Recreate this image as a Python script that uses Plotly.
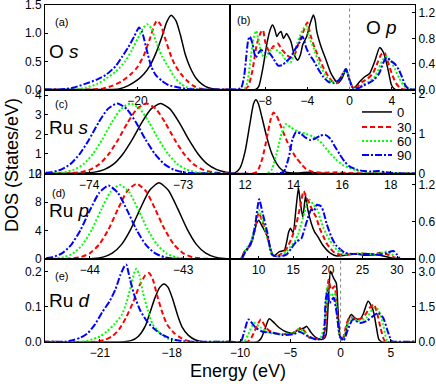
import plotly.graph_objects as go

# ---------------- data ----------------
labels = ["0", "30", "60", "90"]
colors = ["#000000", "#ff0000", "#00ff00", "#0000ff"]

# (a) O s
a_x0 = [-23.0, -21.0, -20.6, -20.3, -20.0, -19.8, -19.6, -19.4, -19.2, -19.05, -18.91, -18.75, -18.6, -18.45, -18.3, -18.1, -17.9, -17.7, -17.4, -16.8]
a_y0 = [0, 0, 0.01, 0.07, 0.17, 0.27, 0.42, 0.65, 0.95, 1.2, 1.32, 1.22, 0.95, 0.62, 0.4, 0.2, 0.09, 0.03, 0.0, 0]
a_x1 = [-23.0, -21.5, -21.1, -20.8, -20.5, -20.2, -20.0, -19.8, -19.6, -19.45, -19.37, -19.25, -19.1, -18.95, -18.8, -18.6, -18.4, -18.2, -18.0, -17.7, -16.8]
a_y1 = [0, 0, 0.02, 0.07, 0.15, 0.28, 0.4, 0.6, 0.9, 1.15, 1.22, 1.15, 0.9, 0.65, 0.45, 0.28, 0.16, 0.07, 0.02, 0, 0]
a_x2 = [-23.0, -22.0, -21.7, -21.3, -21.0, -20.7, -20.4, -20.2, -20.0, -19.8, -19.69, -19.55, -19.4, -19.2, -19.0, -18.8, -18.6, -18.4, -18.1, -16.8]
a_y2 = [0, 0, 0.03, 0.1, 0.2, 0.32, 0.5, 0.68, 0.9, 1.1, 1.16, 1.08, 0.85, 0.58, 0.4, 0.22, 0.1, 0.04, 0, 0]
a_x3 = [-23.0, -22.5, -22.1, -21.7, -21.3, -21.0, -20.7, -20.5, -20.3, -20.1, -19.95, -19.85, -19.7, -19.55, -19.4, -19.2, -19.0, -18.7, -18.4, -18.0, -16.8]
a_y3 = [0, 0, 0.03, 0.1, 0.18, 0.27, 0.42, 0.58, 0.75, 0.95, 1.1, 1.02, 0.7, 0.4, 0.25, 0.15, 0.08, 0.04, 0.01, 0, 0]

# (b) O p
b_x0 = [-11.4, -8.9, -8.6, -8.2, -7.8, -7.5, -7.3, -7.1, -6.89, -6.7, -6.5, -6.26, -5.97, -5.75, -5.55, -5.24, -4.92, -4.65, -4.44, -4.06, -3.81, -3.6, -3.43, -3.25, -3.11, -2.7, -2.22, -1.75, -1.11, -0.7, -0.32, 0.0, 0.32, 0.6, 0.95, 1.43, 1.9, 2.38, 2.86, 3.24, 3.65, 3.97, 4.3, 6.3]
b_y0 = [0, 0, 0.05, 0.35, 0.75, 0.95, 1.01, 0.95, 0.83, 0.88, 0.91, 0.8, 0.88, 0.82, 0.75, 0.54, 0.46, 0.55, 0.7, 0.83, 0.99, 1.1, 1.17, 1.08, 0.91, 0.67, 0.46, 0.25, 0.1, 0.18, 0.32, 0.15, 0.03, 0.05, 0.12, 0.2, 0.25, 0.44, 0.66, 0.57, 0.31, 0.07, 0, 0]
b_x1 = [-11.4, -10.0, -9.6, -9.2, -8.8, -8.4, -8.2, -8.0, -7.6, -7.2, -6.8, -6.4, -6.0, -5.6, -5.2, -4.8, -4.4, -4.0, -3.7, -3.3, -2.9, -2.5, -2.0, -1.6, -1.2, -0.8, -0.35, -0.1, 0.3, 0.7, 1.2, 1.7, 2.2, 2.6, 3.0, 3.3, 3.6, 4.0, 4.4, 4.8, 5.2, 6.3]
b_y1 = [0, 0, 0.05, 0.3, 0.7, 0.9, 0.93, 0.75, 0.6, 0.68, 0.72, 0.62, 0.55, 0.5, 0.55, 0.75, 0.9, 1.05, 0.85, 0.65, 0.5, 0.35, 0.2, 0.12, 0.1, 0.2, 0.32, 0.2, 0.03, 0.04, 0.12, 0.17, 0.25, 0.4, 0.55, 0.58, 0.45, 0.25, 0.1, 0.02, 0, 0]
b_x2 = [-11.4, -10.0, -9.7, -9.4, -9.1, -8.85, -8.6, -8.3, -8.0, -7.6, -7.2, -6.8, -6.4, -6.0, -5.6, -5.2, -4.8, -4.4, -4.1, -3.8, -3.4, -3.0, -2.6, -2.2, -1.7, -1.2, -0.8, -0.35, -0.1, 0.3, 0.8, 1.3, 1.8, 2.3, 2.7, 3.1, 3.5, 3.9, 4.3, 4.7, 5.1, 5.5, 5.8, 6.3]
b_y2 = [0, 0, 0.1, 0.45, 0.8, 0.92, 0.75, 0.55, 0.5, 0.6, 0.65, 0.6, 0.55, 0.45, 0.42, 0.6, 0.8, 0.95, 1.0, 0.8, 0.65, 0.45, 0.32, 0.2, 0.12, 0.12, 0.2, 0.32, 0.2, 0.03, 0.03, 0.08, 0.12, 0.18, 0.3, 0.45, 0.52, 0.45, 0.32, 0.18, 0.07, 0.01, 0, 0]
b_x3 = [-11.4, -10.3, -10.0, -9.8, -9.6, -9.45, -9.2, -8.9, -8.6, -8.4, -8.0, -7.6, -7.2, -6.8, -6.4, -6.0, -5.6, -5.2, -4.8, -4.45, -4.1, -3.8, -3.4, -3.0, -2.5, -2.0, -1.5, -1.0, -0.6, -0.35, -0.1, 0.3, 0.8, 1.3, 1.8, 2.3, 2.8, 3.2, 3.5, 3.9, 4.3, 4.7, 5.0, 5.3, 5.6, 6.0, 6.3]
b_y3 = [0, 0.02, 0.2, 0.5, 0.78, 0.83, 0.72, 0.5, 0.58, 0.62, 0.58, 0.57, 0.48, 0.38, 0.38, 0.44, 0.5, 0.62, 0.72, 0.83, 0.65, 0.55, 0.45, 0.33, 0.2, 0.12, 0.1, 0.15, 0.25, 0.32, 0.2, 0.03, 0.02, 0.06, 0.1, 0.15, 0.25, 0.42, 0.5, 0.45, 0.4, 0.3, 0.18, 0.06, 0.01, 0, 0]

# (c) Ru s (semicore)
c_x0 = [-74.6, -74.04, -73.94, -73.84, -73.74, -73.64, -73.54, -73.44, -73.34, -73.24, -73.14, -73.04, -72.94, -72.84, -72.74, -72.64, -72.54, -72.44, -72.4]
c_y0 = [0, 0.02, 0.07, 0.2, 0.48, 1.0, 1.74, 2.6, 3.3, 3.58, 3.3, 2.6, 1.74, 1.0, 0.48, 0.2, 0.07, 0.02, 0]
c_x1 = [-74.6, -74.19, -74.09, -73.99, -73.89, -73.79, -73.69, -73.59, -73.49, -73.39, -73.29, -73.19, -73.09, -72.99, -72.89, -72.79, -72.69, -72.59, -72.4]
c_y1 = [0, 0.02, 0.07, 0.2, 0.48, 1.0, 1.74, 2.6, 3.3, 3.58, 3.3, 2.6, 1.74, 1.0, 0.48, 0.2, 0.07, 0.02, 0]
c_x2 = [-74.6, -74.36, -74.26, -74.16, -74.06, -73.96, -73.86, -73.76, -73.66, -73.56, -73.46, -73.36, -73.26, -73.16, -73.06, -72.96, -72.86, -72.76, -72.4]
c_y2 = [0, 0.02, 0.07, 0.2, 0.48, 1.0, 1.74, 2.6, 3.3, 3.58, 3.3, 2.6, 1.74, 1.0, 0.48, 0.2, 0.07, 0.02, 0]
c_x3 = [-74.6, -74.5, -74.4, -74.3, -74.2, -74.1, -74.0, -73.9, -73.8, -73.7, -73.6, -73.5, -73.4, -73.3, -73.2, -73.1, -73.0, -72.9, -72.4]
c_y3 = [0, 0.02, 0.07, 0.2, 0.48, 1.0, 1.74, 2.6, 3.3, 3.58, 3.3, 2.6, 1.74, 1.0, 0.48, 0.2, 0.07, 0.02, 0]

# row 2 right (Ru s, conduction)
r2_x0 = [11.3, 11.6, 11.8, 12.0, 12.2, 12.35, 12.45, 12.55, 12.7, 12.9, 13.1, 13.3, 13.5, 13.7, 14.0, 14.6, 15.0, 15.5, 19.1]
r2_y0 = [0, 0.02, 0.15, 0.55, 1.25, 1.75, 1.85, 1.75, 1.4, 0.9, 0.5, 0.25, 0.1, 0.03, 0.01, 0.03, 0.01, 0, 0]
r2_x1 = [11.3, 12.3, 12.5, 12.7, 12.9, 13.05, 13.17, 13.3, 13.5, 13.7, 13.9, 14.1, 14.3, 14.5, 14.8, 15.2, 15.8, 16.3, 17.0, 19.1]
r2_y1 = [0, 0, 0.05, 0.35, 0.9, 1.35, 1.53, 1.45, 1.15, 0.85, 0.6, 0.4, 0.25, 0.12, 0.04, 0.02, 0.03, 0.01, 0, 0]
r2_x2 = [11.3, 12.9, 13.1, 13.3, 13.5, 13.68, 13.9, 14.2, 14.5, 14.8, 15.1, 15.4, 15.7, 16.0, 16.3, 16.6, 17.0, 17.5, 18.0, 18.5, 19.1]
r2_y2 = [0, 0, 0.1, 0.5, 1.0, 1.24, 1.15, 1.05, 1.0, 0.93, 0.8, 0.58, 0.38, 0.22, 0.14, 0.08, 0.04, 0.03, 0.01, 0, 0]
r2_x3 = [11.3, 13.4, 13.6, 13.8, 13.95, 14.1, 14.3, 14.5, 14.7, 14.9, 15.1, 15.3, 15.5, 15.7, 15.9, 16.1, 16.3, 16.6, 16.9, 17.2, 17.5, 17.8, 18.2, 18.6, 19.1]
r2_y3 = [0, 0, 0.05, 0.4, 0.85, 1.04, 1.0, 0.9, 0.84, 0.88, 0.95, 0.97, 0.88, 0.68, 0.48, 0.3, 0.18, 0.1, 0.06, 0.05, 0.06, 0.03, 0.01, 0, 0]

# (d) Ru p (semicore)
d_x0 = [-44.6, -44.06, -43.96, -43.86, -43.76, -43.66, -43.56, -43.46, -43.36, -43.26, -43.16, -43.06, -42.96, -42.86, -42.76, -42.66, -42.56, -42.46, -42.4]
d_y0 = [0, 0.01, 0.07, 0.26, 0.81, 2.05, 4.23, 7.08, 9.65, 10.7, 9.65, 7.08, 4.23, 2.05, 0.81, 0.26, 0.07, 0.01, 0]
d_x1 = [-44.6, -44.3, -44.2, -44.1, -44.0, -43.9, -43.8, -43.7, -43.6, -43.5, -43.4, -43.3, -43.2, -43.1, -43.0, -42.9, -42.8, -42.7, -42.4]
d_y1 = [0, 0.01, 0.06, 0.25, 0.8, 2.03, 4.17, 6.98, 9.52, 10.55, 9.52, 6.98, 4.17, 2.03, 0.8, 0.25, 0.06, 0.01, 0]
d_x2 = [-44.6, -44.48, -44.38, -44.28, -44.18, -44.08, -43.98, -43.88, -43.78, -43.68, -43.58, -43.48, -43.38, -43.28, -43.18, -43.08, -42.98, -42.88, -42.4]
d_y2 = [0, 0.01, 0.06, 0.25, 0.79, 2.0, 4.11, 6.88, 9.38, 10.4, 9.38, 6.88, 4.11, 2.0, 0.79, 0.25, 0.06, 0.01, 0]
d_x3 = [-44.6, -44.5, -44.5, -44.4, -44.3, -44.2, -44.1, -44.0, -43.9, -43.8, -43.7, -43.6, -43.5, -43.4, -43.3, -43.2, -43.1, -43.0, -42.4]
d_y3 = [0, 0.0, 0.06, 0.25, 0.78, 1.98, 4.07, 6.82, 9.29, 10.3, 9.29, 6.82, 4.07, 1.98, 0.78, 0.25, 0.06, 0.01, 0]

# row 3 right (Ru p, conduction)
r3_x0 = [5.8, 7.4, 7.9, 8.37, 8.8, 9.3, 9.7, 10.0, 10.55, 11.05, 11.4, 11.77, 12.2, 12.98, 13.7, 14.34, 14.6, 14.97, 15.42, 15.75, 16.04, 16.38, 16.77, 17.1, 17.6, 18.08, 18.57, 19.3, 20.3, 21.3, 22.5, 24.0, 25.5, 27.0, 28.0, 29.0, 30.0, 32.7]
r3_y0 = [0, 0, 0.12, 0.17, 0.22, 0.4, 0.58, 0.63, 0.52, 0.42, 0.3, 0.14, 0.05, 0.12, 0.14, 0.44, 0.5, 0.43, 0.85, 1.15, 0.9, 0.68, 1.02, 0.8, 0.58, 0.44, 0.36, 0.22, 0.1, 0.05, 0.06, 0.08, 0.06, 0.07, 0.05, 0.02, 0, 0]
r3_x1 = [5.8, 7.4, 7.9, 8.4, 8.9, 9.4, 9.8, 10.0, 10.5, 11.0, 11.5, 11.9, 12.5, 13.2, 13.7, 14.2, 14.8, 15.4, 16.0, 16.5, 16.9, 17.35, 17.8, 18.3, 18.8, 19.3, 19.8, 20.3, 21.0, 22.0, 23.5, 25.0, 26.5, 27.5, 28.5, 29.5, 30.2, 32.7]
r3_y1 = [0, 0, 0.1, 0.18, 0.25, 0.45, 0.68, 0.75, 0.62, 0.45, 0.25, 0.08, 0.04, 0.08, 0.12, 0.2, 0.35, 0.55, 0.85, 1.1, 1.0, 0.9, 0.78, 0.68, 0.5, 0.38, 0.26, 0.18, 0.1, 0.07, 0.08, 0.09, 0.08, 0.1, 0.08, 0.03, 0, 0]
r3_x2 = [5.8, 7.4, 7.9, 8.4, 8.9, 9.4, 9.8, 10.0, 10.5, 11.0, 11.5, 12.0, 12.6, 13.3, 14.0, 14.6, 15.2, 15.7, 16.1, 16.6, 17.0, 17.35, 17.9, 18.5, 18.9, 19.3, 19.8, 20.3, 20.8, 21.3, 22.3, 23.5, 25.0, 26.5, 27.5, 28.5, 29.2, 30.0, 32.7]
r3_y2 = [0, 0, 0.1, 0.2, 0.28, 0.5, 0.74, 0.8, 0.65, 0.45, 0.25, 0.07, 0.04, 0.06, 0.12, 0.2, 0.28, 0.4, 0.55, 0.75, 0.9, 0.96, 0.88, 0.8, 0.65, 0.52, 0.4, 0.3, 0.22, 0.15, 0.08, 0.08, 0.09, 0.08, 0.09, 0.12, 0.08, 0.01, 0]
r3_x3 = [5.8, 7.5, 8.0, 8.5, 9.0, 9.5, 9.85, 10.07, 10.56, 11.3, 11.93, 12.8, 14.0, 14.7, 15.42, 16.15, 16.87, 17.6, 18.0, 18.42, 19.05, 19.4, 19.8, 20.5, 21.2, 22.5, 24.2, 26.0, 27.5, 28.5, 29.5, 30.0, 30.45, 32.7]
r3_y3 = [0, 0, 0.1, 0.18, 0.3, 0.55, 0.85, 0.97, 0.75, 0.4, 0.07, 0.04, 0.07, 0.17, 0.28, 0.33, 0.58, 0.8, 0.78, 0.88, 0.85, 0.75, 0.58, 0.36, 0.22, 0.1, 0.08, 0.08, 0.07, 0.1, 0.13, 0.07, 0, 0]

# (e) Ru d (semicore)
e_x0 = [-23.4, -20.0, -19.7, -19.4, -19.1, -18.9, -18.7, -18.5, -18.32, -18.15, -17.95, -17.75, -17.55, -17.3, -17.0, -16.7, -15.5]
e_y0 = [0, 0, 0.003, 0.015, 0.045, 0.085, 0.125, 0.155, 0.165, 0.155, 0.12, 0.075, 0.04, 0.018, 0.005, 0, 0]
e_x1 = [-23.4, -21.2, -20.8, -20.5, -20.2, -19.9, -19.6, -19.35, -19.1, -18.95, -18.8, -18.6, -18.4, -18.2, -17.9, -17.6, -17.2, -15.5]
e_y1 = [0, 0, 0.005, 0.015, 0.035, 0.07, 0.115, 0.16, 0.19, 0.196, 0.18, 0.13, 0.085, 0.05, 0.025, 0.01, 0, 0]
e_x2 = [-23.4, -21.8, -21.4, -21.0, -20.7, -20.4, -20.1, -19.9, -19.7, -19.55, -19.48, -19.35, -19.2, -19.0, -18.8, -18.5, -18.2, -17.8, -17.5, -15.5]
e_y2 = [0, 0, 0.005, 0.015, 0.03, 0.05, 0.075, 0.11, 0.16, 0.2, 0.208, 0.19, 0.14, 0.09, 0.05, 0.025, 0.01, 0.003, 0, 0]
e_x3 = [-23.4, -22.5, -22.1, -21.8, -21.5, -21.2, -20.9, -20.6, -20.35, -20.15, -19.98, -19.9, -19.75, -19.55, -19.3, -19.0, -18.7, -18.4, -18.0, -17.6, -17.2, -15.5]
e_y3 = [0, 0, 0.005, 0.012, 0.025, 0.05, 0.085, 0.115, 0.15, 0.19, 0.215, 0.22, 0.18, 0.13, 0.087, 0.055, 0.035, 0.02, 0.008, 0.002, 0, 0]

# row 4 right (Ru d, valence)
r4_x0 = [-11.1, -8.27, -7.9, -7.6, -7.1, -6.6, -6.1, -5.43, -4.77, -4.27, -3.6, -3.37, -2.93, -2.43, -1.93, -1.6, -1.43, -1.2, -1.0, -0.7, -0.43, -0.27, -0.1, 0.1, 0.4, 0.73, 1.07, 1.4, 1.9, 2.23, 2.73, 3.07, 3.3, 3.57, 3.8, 4.07, 7.5]
r4_y0 = [0, 0, 0.15, 0.46, 0.99, 0.81, 0.6, 0.43, 0.38, 0.49, 0.6, 0.66, 0.39, 0.17, 0.1, 0.15, 0.32, 1.89, 3.03, 2.74, 2.53, 1.46, 0.39, 0.1, 0.24, 0.89, 1.17, 1.03, 0.96, 1.17, 1.74, 1.53, 1.24, 0.6, 0.1, 0, 0]
r4_x1 = [-11.1, -9.27, -8.9, -8.4, -7.93, -7.43, -6.77, -5.77, -4.77, -3.93, -3.5, -3.1, -2.43, -1.77, -1.43, -1.2, -0.93, -0.6, -0.37, -0.1, 0.23, 0.57, 0.9, 1.57, 2.23, 2.9, 3.3, 3.63, 3.97, 4.3, 4.5, 7.5]
r4_y1 = [0, 0, 0.15, 0.6, 0.96, 0.6, 0.39, 0.33, 0.35, 0.6, 0.4, 0.17, 0.13, 0.1, 1.1, 2.67, 2.24, 2.39, 1.46, 0.3, 0.17, 0.73, 1.06, 0.96, 1.03, 1.46, 1.6, 1.24, 0.6, 0.1, 0, 0]
r4_x2 = [-11.1, -9.6, -9.2, -8.6, -7.93, -7.1, -5.77, -4.6, -4.1, -3.6, -3.1, -2.1, -1.6, -1.33, -1.0, -0.6, -0.37, -0.1, 0.23, 0.63, 1.07, 1.73, 2.57, 3.3, 3.73, 4.23, 4.57, 4.8, 7.5]
r4_y2 = [0, 0, 0.3, 0.81, 0.6, 0.39, 0.33, 0.4, 0.56, 0.4, 0.2, 0.1, 0.74, 2.39, 1.96, 2.1, 1.3, 0.2, 0.1, 0.67, 1.03, 0.89, 1.03, 1.46, 1.39, 0.74, 0.1, 0, 0]
r4_x3 = [-11.1, -9.93, -9.6, -9.17, -8.43, -7.77, -6.77, -5.77, -4.6, -4.1, -3.27, -2.43, -1.77, -1.5, -1.3, -1.1, -0.7, -0.37, -0.03, 0.3, 0.73, 1.23, 1.9, 2.57, 3.23, 3.73, 4.23, 4.73, 5.07, 5.3, 7.5]
r4_y3 = [0, 0, 0.4, 0.96, 0.6, 0.43, 0.39, 0.29, 0.33, 0.43, 0.24, 0.1, 0.17, 1.74, 2.2, 1.67, 1.89, 1.17, 0.2, 0.05, 0.53, 0.96, 0.81, 0.89, 1.1, 1.24, 1.03, 0.39, 0.03, 0, 0]

panels = [
    ([a_x0, a_x1, a_x2, a_x3], [a_y0, a_y1, a_y2, a_y3]),
    ([b_x0, b_x1, b_x2, b_x3], [b_y0, b_y1, b_y2, b_y3]),
    ([c_x0, c_x1, c_x2, c_x3], [c_y0, c_y1, c_y2, c_y3]),
    ([r2_x0, r2_x1, r2_x2, r2_x3], [r2_y0, r2_y1, r2_y2, r2_y3]),
    ([d_x0, d_x1, d_x2, d_x3], [d_y0, d_y1, d_y2, d_y3]),
    ([r3_x0, r3_x1, r3_x2, r3_x3], [r3_y0, r3_y1, r3_y2, r3_y3]),
    ([e_x0, e_x1, e_x2, e_x3], [e_y0, e_y1, e_y2, e_y3]),
    ([r4_x0, r4_x1, r4_x2, r4_x3], [r4_y0, r4_y1, r4_y2, r4_y3]),
]

# axis settings
x_ranges = [[-23.0, -17.0], [-11.33, 6.2], [-74.47, -72.5], [11.38, 19.0],
            [-44.48, -42.5], [5.85, 32.6], [-23.3, -15.56], [-11.0, 7.4]]
x_ticks = [[-20], [-8, -4, 0, 4], [-74, -73], [12, 14, 16, 18],
           [-44, -43], [10, 15, 20, 25, 30], [-21, -18], [-10, -5, 0, 5]]
y_ranges = [[0, 1.5], [0, 1.325], [0, 4.29], [0, 2.11],
            [0, 12.0], [0, 1.386], [0, 0.236], [0, 3.56]]
y_ticks = [[0, 0.5, 1.0, 1.5], [0, 0.4, 0.8, 1.2], [0, 1, 2, 3, 4], [0, 1, 2],
           [0, 4, 8, 12], [0, 0.6, 1.2], [0, 0.1, 0.2], [0, 1.5, 3.0]]
y_fmt = [".1f", ".1f", "d", "d", "d", ".1f", ".1f", ".1f"]

dashes = ["solid", "5px,3px", "2px,2px", "7px,2px,2px,2px"]
widths = [1.5, 2, 2, 2]
legend_names = ["legend", "legend2", "legend3", "legend4"]
legend_ypx = [112, 127, 141, 155]

W, H = 436, 384
col_px = [(45, 230), (230, 415)]
row_px = [(5, 89.5), (89.5, 173.5), (173.5, 259), (259, 341.7)]

fig = go.Figure()
for p, (xs, ys) in enumerate(panels):
    ax = "" if p == 0 else str(p + 1)
    for s in range(4):
        fig.add_trace(go.Scatter(
            x=xs[s], y=ys[s], mode="lines",
            line=dict(color=colors[s], width=widths[s], dash=dashes[s], shape="spline", smoothing=0.6),
            name=labels[s], showlegend=(p == 3), legend=legend_names[s],
            xaxis="x" + ax, yaxis="y" + ax, hoverinfo="skip"))

layout = dict(width=W, height=H, margin=dict(l=0, r=0, t=0, b=0), template="none",
              paper_bgcolor="white", plot_bgcolor="white",
              font=dict(family="Liberation Sans, Arial, sans-serif", size=12, color="black"),
              showlegend=True)
for s in range(4):
    layout[legend_names[s]] = dict(x=357 / W, y=1 - legend_ypx[s] / H, xanchor="left", yanchor="middle",
                                   bgcolor="rgba(0,0,0,0)", borderwidth=0, font=dict(size=13),
                                   itemwidth=30)
for p in range(8):
    r, c = divmod(p, 2)
    ax = "" if p == 0 else str(p + 1)
    x0, x1 = col_px[c]
    y0, y1 = row_px[r]
    layout["xaxis" + ax] = dict(
        domain=[x0 / W, x1 / W], range=x_ranges[p], anchor="y" + ax, automargin=False,
        tickvals=x_ticks[p], ticks="inside", ticklen=3, tickcolor="black",
        ticklabeloverflow="allow",
        showline=True, mirror=True, linecolor="black", linewidth=1,
        showgrid=False, zeroline=False, tickfont=dict(size=12))
    layout["yaxis" + ax] = dict(
        domain=[1 - y1 / H, 1 - y0 / H], range=y_ranges[p], anchor="x" + ax, automargin=False,
        tickvals=y_ticks[p], tickformat=y_fmt[p], ticks="inside", ticklen=3, tickcolor="black",
        ticklabeloverflow="allow",
        side="left" if c == 0 else "right",
        showline=True, mirror=True, linecolor="black", linewidth=1,
        showgrid=False, zeroline=False, tickfont=dict(size=12))
fig.update_layout(**layout)

# vertical dotted lines at Fermi level
fig.add_shape(type="line", xref="x2", yref="y2 domain", x0=0, x1=0, y0=0, y1=1,
              line=dict(color="gray", width=1, dash="dot"))
fig.add_shape(type="line", xref="x8", yref="paper", x0=0, x1=0,
              y0=1 - 341.7 / H, y1=1 - 247 / H,
              line=dict(color="gray", width=1, dash="dot"))

# panel labels
small = [("(a)", 53, 22), ("(b)", 235, 20), ("(c)", 53, 104), ("(d)", 50, 193), ("(e)", 53, 276)]
for t, px, py in small:
    fig.add_annotation(text=t, x=px / W, y=1 - py / H, xref="paper", yref="paper",
                       xanchor="left", yanchor="middle", showarrow=False, font=dict(size=11))
big = [("O <i>s</i>", 47, 51), ("O <i>p</i>", 364, 28), ("Ru <i>s</i>", 47, 128),
       ("Ru <i>p</i>", 47, 210), ("Ru <i>d</i>", 47, 300)]
for t, px, py in big:
    fig.add_annotation(text=t, x=px / W, y=1 - py / H, xref="paper", yref="paper",
                       xanchor="left", yanchor="middle", showarrow=False, font=dict(size=19))

fig.add_annotation(text="DOS (States/eV)", x=12 / W, y=1 - 165 / H, xref="paper", yref="paper",
                   xanchor="center", yanchor="middle",
                   textangle=-90, showarrow=False, font=dict(size=18))
fig.add_annotation(text="Energy (eV)", x=238 / W, y=1 - 371 / H, xref="paper", yref="paper",
                   xanchor="center", yanchor="middle",
                   showarrow=False, font=dict(size=18))

fig.write_html("out.html", config={"displayModeBar": False},
               post_script="document.body.style.margin='0';")
